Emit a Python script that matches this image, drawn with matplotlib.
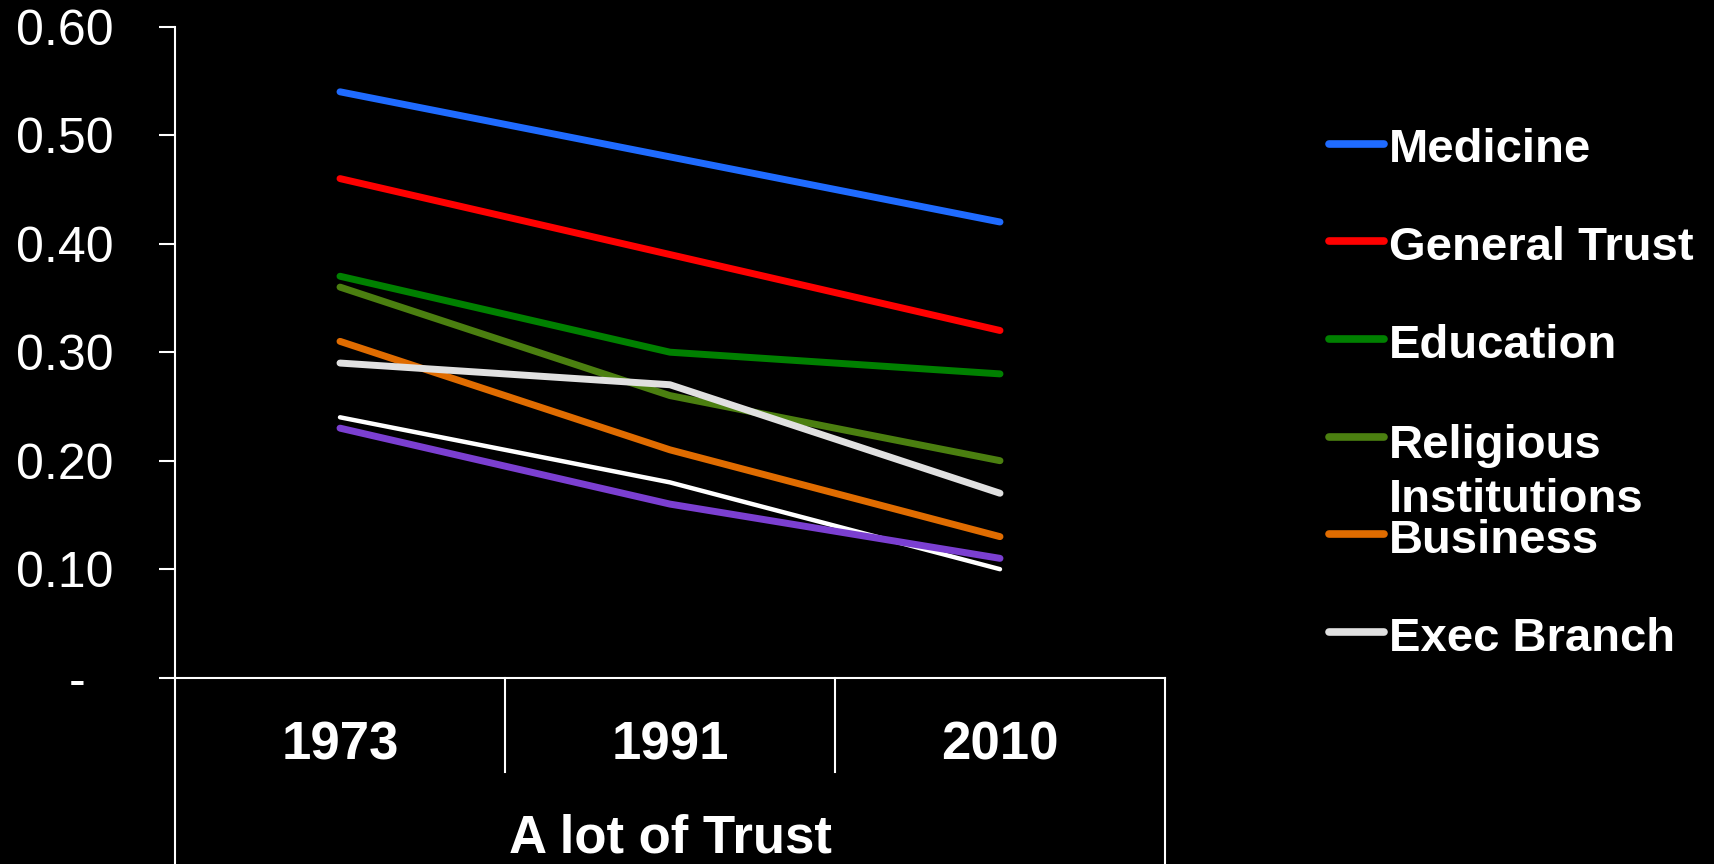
import matplotlib
matplotlib.use('Agg')
import matplotlib.pyplot as plt
from matplotlib.lines import Line2D
from matplotlib.ticker import FuncFormatter

# data
years = ['1973', '1991', '2010']
medicine = [0.54, 0.48, 0.42]
general_trust = [0.46, 0.39, 0.32]
education = [0.37, 0.30, 0.28]
religious = [0.36, 0.26, 0.20]
business = [0.31, 0.21, 0.13]
exec_branch = [0.29, 0.27, 0.17]
unlabelled_white = [0.24, 0.18, 0.10]   # no legend entry in the original
unlabelled_purple = [0.23, 0.16, 0.11]  # no legend entry in the original
group_label = 'A lot of Trust'
yticks = [0.0, 0.1, 0.2, 0.3, 0.4, 0.5, 0.6]

series = [
    ('Medicine', medicine, '#1f6bff', 5.0),
    ('General Trust', general_trust, '#ff0000', 5.0),
    ('Education', education, '#008000', 5.0),
    ('Religious\nInstitutions', religious, '#4b7f10', 5.0),
    ('Business', business, '#e06c00', 5.0),
    ('Exec Branch', exec_branch, '#e0e0e0', 5.0),
    (None, unlabelled_white, '#ffffff', 3.2),
    (None, unlabelled_purple, '#7b3fd1', 5.0),
]

plt.rcParams['font.family'] = ['Liberation Sans', 'DejaVu Sans']
W, H = 1715, 864
fig = plt.figure(figsize=(W / 100, H / 100), dpi=100, facecolor='black')
ax = fig.add_axes([175 / W, 1 - 677.7 / H, 990 / W, 651 / H], facecolor='black')

x = list(range(len(years)))
for name, vals, col, lw in series:
    ax.plot(x, vals, color=col, lw=lw, solid_capstyle='round', solid_joinstyle='round')

ax.set_xlim(-0.5, len(years) - 0.5)
ax.set_ylim(0, 0.6)
ax.set_yticks(yticks)
ax.yaxis.set_major_formatter(FuncFormatter(lambda v, p: '-  ' if abs(v) < 1e-9 else f'{v:.2f}'))
ax.tick_params(axis='y', direction='out', length=11.5, width=1.5, color='white',
               labelcolor='white', labelsize=36, pad=33)
ax.set_xticks([])
for s in ('top', 'right'):
    ax.spines[s].set_visible(False)
for s in ('left', 'bottom'):
    ax.spines[s].set_color('white'); ax.spines[s].set_linewidth(1.5)

# category axis: dividers below the plot, outer lines run to the bottom edge
xt = ax.get_xaxis_transform()
ax.plot([-0.5, -0.5], [0, -0.3], transform=xt, color='white', lw=1.5, clip_on=False)
ax.plot([len(years) - 0.5] * 2, [0, -0.3], transform=xt, color='white', lw=1.5, clip_on=False)
for i in range(len(years) - 1):
    ax.plot([i + 0.5, i + 0.5], [0, -0.145], transform=xt, color='white', lw=1.5, clip_on=False)
for i, yr in enumerate(years):
    ax.text(i, -0.125, yr, transform=xt, ha='center', va='baseline', color='white',
            fontsize=38, fontweight='bold')
ax.text((len(years) - 1) / 2, -0.269, group_label, transform=xt, ha='center', va='baseline',
        color='white', fontsize=38, fontweight='bold')

# legend drawn by hand: equal spacing, two-line label spills over like the original
ly0, step, line_h = 145.5, 97.7, 56.5
k = 0
for name, vals, col, lw in series:
    if name is None:
        continue
    cy = ly0 + k * step
    extra = (name.count('\n')) * line_h  # va='baseline' pins the last line
    fig.add_artist(Line2D([1329 / W, 1384 / W], [1 - (cy - 2) / H] * 2, color=col, lw=5.5,
                          solid_capstyle='round'))
    fig.text(1389 / W, 1 - (cy + 16.8 + extra) / H, name, color='white', fontsize=34,
             fontweight='bold', ha='left', va='baseline', linespacing=1.3)
    k += 1

fig.savefig('out.png', dpi=100, facecolor='black')
